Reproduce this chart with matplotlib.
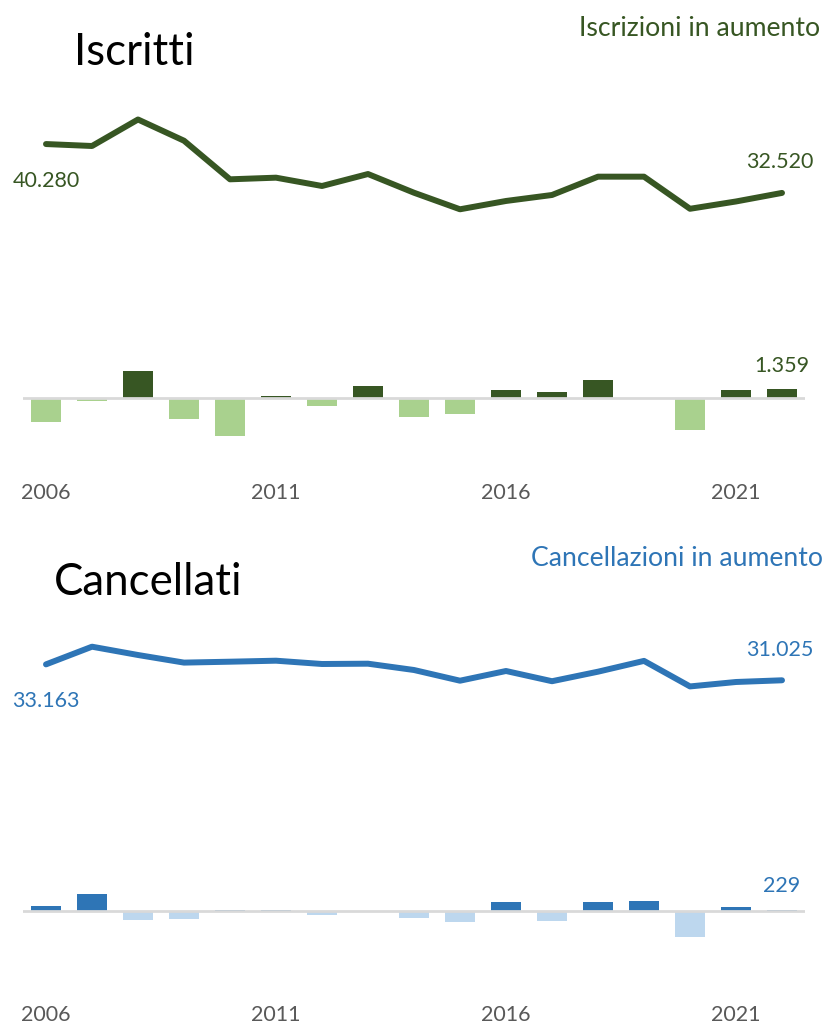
import matplotlib
matplotlib.use("Agg")
import matplotlib.pyplot as plt

# ---- data ----
years = list(range(2006, 2023))
tick_years = [2006, 2011, 2016, 2021]

iscritti = [40280, 39970, 44180, 40810, 34680, 34940, 33620, 35520, 32550,
            29920, 31240, 32190, 35100, 35100, 30000, 31161, 32520]
var_iscritti = [-3810, -480, 4210, -3450, -6150, 260, -1370, 1800, -2990,
                -2600, 1250, 960, 2870, 0, -5080, 1160, 1359]

cancellati = [33163, 35536, 34421, 33400, 33521, 33656, 33212, 33253, 32406,
              30970, 32273, 30900, 32179, 33630, 30200, 30796, 31025]
var_cancellati = [670, 2373, -1115, -1100, 121, 135, -444, 41, -847,
                  -1436, 1303, -1344, 1250, 1436, -3451, 596, 229]

# ---- style ----
plt.rcParams['font.family'] = ['Lato', 'DejaVu Sans']
W, H = 829, 1026
fig = plt.figure(figsize=(W / 100, H / 100), dpi=100)

GREEN_DARK = '#375623'
GREEN_LIGHT = '#A9D18E'
BLUE_DARK = '#2E75B6'
BLUE_LIGHT = '#BDD7EE'
TICK_COLOR = '#595959'
BASE_COLOR = '#D9D9D9'


def fmt(v):
    return f"{v:,}".replace(',', '.')


def ftext(x, y, s, **kw):
    fig.text(x / W, 1 - y / H, s, **kw)


def panel(ytop, ybot, zero_px, scale, line_vals, bar_vals, dark, light,
          first_off, last_off, bar_off, tick_pad):
    ax = fig.add_axes([23 / W, 1 - ybot / H, (805 - 23) / W, (ybot - ytop) / H])
    x = list(range(len(years)))
    ax.set_xlim(-0.5, len(years) - 0.5)
    ax.set_ylim(-(ybot - zero_px) * scale, (zero_px - ytop) * scale)
    colors = [dark if v > 0 else light for v in bar_vals]
    ax.bar(x, bar_vals, width=0.66, color=colors, zorder=2)
    ax.axhline(0, color=BASE_COLOR, lw=2, zorder=3)
    ax.plot(x, line_vals, color=dark, lw=4.3, solid_joinstyle='round',
            solid_capstyle='round', zorder=4)
    # labels
    ax.annotate(fmt(line_vals[0]), xy=(x[0], line_vals[0]), xytext=first_off,
                textcoords='offset points', ha='center', va='baseline',
                color=dark, fontsize=15.5)
    ax.annotate(fmt(line_vals[-1]), xy=(x[-1], line_vals[-1]), xytext=last_off,
                textcoords='offset points', ha='center', va='baseline',
                color=dark, fontsize=15.5)
    ax.annotate(fmt(bar_vals[-1]), xy=(x[-1], bar_vals[-1]), xytext=bar_off,
                textcoords='offset points', ha='center', va='baseline',
                color=dark, fontsize=15.5)
    ax.set_xticks([years.index(t) for t in tick_years])
    ax.set_xticklabels([str(t) for t in tick_years])
    ax.tick_params(axis='x', length=0, pad=tick_pad, labelsize=15.5,
                   labelcolor=TICK_COLOR)
    ax.set_yticks([])
    for sp in ax.spines.values():
        sp.set_visible(False)
    ax.patch.set_alpha(0)
    return ax


# top panel: Iscritti
panel(100, 470, 397.7, 158.8, iscritti, var_iscritti, GREEN_DARK, GREEN_LIGHT,
      first_off=(0, -30.7), last_off=(-1.5, 17.8), bar_off=(0, 12.7), tick_pad=9.4)
ftext(74, 65, 'Iscritti', fontsize=31.5, color='black', va='baseline', ha='left')
ftext(820, 35.7, 'Iscrizioni in aumento', fontsize=19.2, color=GREEN_DARK,
      va='baseline', ha='right')

# bottom panel: Cancellati
panel(620, 990, 911.3, 134.3, cancellati, var_cancellati, BLUE_DARK, BLUE_LIGHT,
      first_off=(0, -30.5), last_off=(-1.5, 17.3), bar_off=(0, 13), tick_pad=10.8)
ftext(54, 595, 'Cancellati', fontsize=31.5, color='black', va='baseline', ha='left')
ftext(823, 566, 'Cancellazioni in aumento', fontsize=19.2, color=BLUE_DARK,
      va='baseline', ha='right')

fig.savefig('out.png', dpi=100, facecolor='white')
